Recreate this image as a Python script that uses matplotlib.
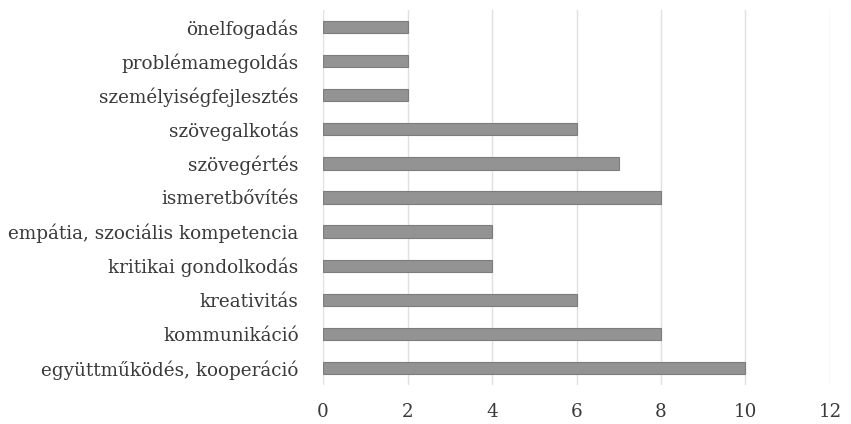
import matplotlib
matplotlib.use("Agg")
import matplotlib.pyplot as plt

# adatok (alulról felfelé, ahogy a diagramon)
kategoriak = [
    "együttműködés, kooperáció",
    "kommunikáció",
    "kreativitás",
    "kritikai gondolkodás",
    "empátia, szociális kompetencia",
    "ismeretbővítés",
    "szövegértés",
    "szövegalkotás",
    "személyiségfejlesztés",
    "problémamegoldás",
    "önelfogadás",
]
ertekek = [10, 8, 6, 4, 4, 8, 7, 6, 2, 2, 2]
x_tickek = [0, 2, 4, 6, 8, 10, 12]

plt.rcParams['font.family'] = ['DejaVu Serif']

fig = plt.figure(figsize=(8.51, 4.24), dpi=100)
ax = fig.add_axes([0.3796, 0.092, 0.5957, 0.8844])

ax.barh(range(len(kategoriak)), ertekek, height=0.36,
        color='#939393', edgecolor='#7c7c7c', linewidth=0.8, zorder=3)

ax.set_xlim(0, 12)
ax.set_ylim(-0.5, len(kategoriak) - 0.5)
ax.set_xticks(x_tickek)
ax.set_yticks(range(len(kategoriak)))
ax.set_yticklabels(kategoriak)

ax.grid(axis='x', color='#e0e0e0', linewidth=1, zorder=0)
for s in ax.spines.values():
    s.set_visible(False)
ax.tick_params(axis='both', length=0, labelsize=13.2, colors='#3a3a3a')
ax.tick_params(axis='y', pad=17.5)
ax.tick_params(axis='x', pad=13)

fig.savefig("out.png", dpi=100)
